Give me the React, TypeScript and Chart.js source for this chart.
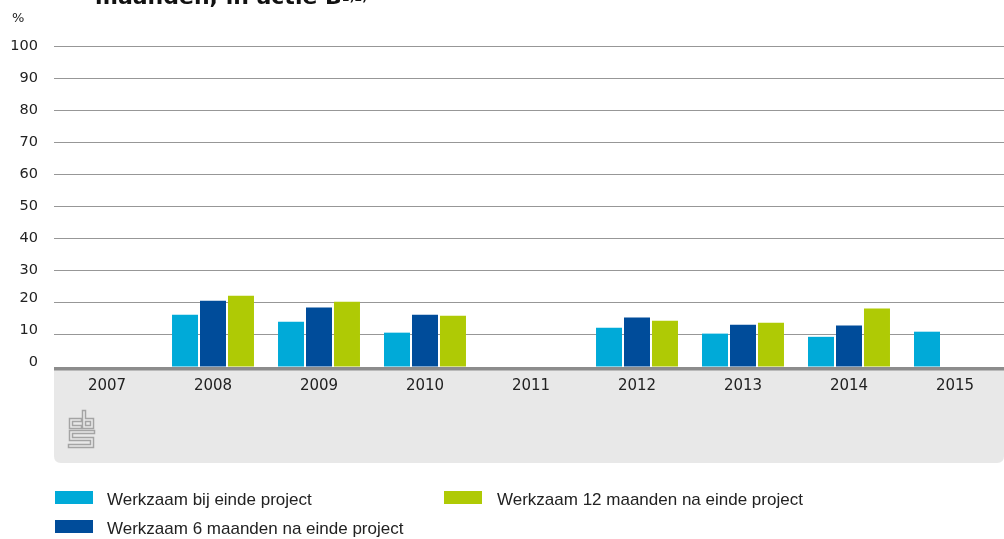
import React, { useEffect, useRef } from "react";
import { Chart, registerables } from "chart.js";

Chart.register(...registerables);

const years = ["2007", "2008", "2009", "2010", "2011", "2012", "2013", "2014", "2015"];
const bijEinde = [null, 16.3, 14.1, 10.7, null, 12.2, 10.4, 9.4, 11.0];
const zesMaanden = [null, 20.6, 18.5, 16.3, null, 15.4, 13.2, 12.9, null];
const twaalfMaanden = [null, 22.2, 20.3, 16.0, null, 14.4, 13.8, 18.2, null];
const yTicks = [0, 10, 20, 30, 40, 50, 60, 70, 80, 90, 100];
const raisedTicks = [0, 10, 20];

const seriesNames = [
  "Werkzaam bij einde project",
  "Werkzaam 6 maanden na einde project",
  "Werkzaam 12 maanden na einde project",
];
const colors = ["#00AAD8", "#004C9A", "#AFCA05"];

const FONT = "'DejaVu Sans', sans-serif";

const bandPlugin = {
  id: "band",
  beforeDraw(chart: any) {
    const { ctx, chartArea } = chart;
    const left = chartArea.left;
    const right = chartArea.right - 4;
    const top = chartArea.bottom;
    const bottom = 463;
    const r = 7;
    ctx.save();
    ctx.fillStyle = "#e8e8e8";
    ctx.beginPath();
    ctx.moveTo(left, top);
    ctx.lineTo(right, top);
    ctx.lineTo(right, bottom - r);
    ctx.quadraticCurveTo(right, bottom, right - r, bottom);
    ctx.lineTo(left + r, bottom);
    ctx.quadraticCurveTo(left, bottom, left, bottom - r);
    ctx.closePath();
    ctx.fill();
    ctx.fillStyle = "#8c8c8c";
    ctx.fillRect(left, top, right - left + 4, 3.5);

    // cbs logo
    const x0 = 69;
    const y0 = 411;
    const paths: number[][][] = [
      [[11, 9], [2, 9], [2, 16], [11, 16]],
      [[15, 1], [15, 16], [23, 16], [23, 9], [15, 9]],
      [[24, 21], [2, 21], [2, 28], [23, 28], [23, 35], [1, 35]],
    ];
    ctx.lineJoin = "miter";
    ctx.lineCap = "square";
    for (const [w, c] of [[4.5, "#a4a4a4"], [1.6, "#e8e8e8"]] as [number, string][]) {
      ctx.lineWidth = w;
      ctx.strokeStyle = c;
      for (const p of paths) {
        ctx.beginPath();
        p.forEach(([px, py], i) => (i === 0 ? ctx.moveTo(x0 + px, y0 + py) : ctx.lineTo(x0 + px, y0 + py)));
        ctx.stroke();
      }
    }
    ctx.restore();
  },
};

export default function App() {
  const ref = useRef<HTMLCanvasElement>(null);
  useEffect(() => {
    if (!ref.current) return;
    const chart = new Chart(ref.current, {
      type: "bar",
      data: {
        labels: years,
        datasets: [bijEinde, zesMaanden, twaalfMaanden].map((d, i) => ({
          label: seriesNames[i],
          data: d as any,
          backgroundColor: colors[i],
          borderWidth: 0,
          categoryPercentage: 0.792,
          barPercentage: 0.929,
        })),
      },
      options: {
        animation: false,
        responsive: false,
        devicePixelRatio: 1,
        layout: { padding: { top: 46, left: 0, right: 0, bottom: 0 } },
        plugins: { legend: { display: false }, tooltip: { enabled: false }, title: { display: false } },
        scales: {
          x: {
            grid: { display: false, drawTicks: false },
            border: { display: false },
            ticks: { color: "#222", font: { family: FONT, size: 15 }, padding: 10 },
            afterFit: (s: any) => {
              s.height = 172;
            },
          },
          y: {
            min: 0,
            max: 100,
            afterBuildTicks: (s: any) => {
              s.ticks = yTicks.map((v) => ({ value: v }));
            },
            grid: {
              drawTicks: false,
              color: (c: any) => (c.tick && c.tick.value === 0 ? "rgba(0,0,0,0)" : "#979797"),
              lineWidth: 1,
            },
            border: { display: false },
            ticks: {
              color: "#222",
              padding: 16,
              font: (c: any) => ({
                family: FONT,
                size: 14.5,
                lineHeight: c.tick && raisedTicks.includes(c.tick.value) ? "10px" : 1.2,
              }),
              callback: (v: any) => (raisedTicks.includes(Number(v)) ? [String(v), ""] : String(v)),
            },
            afterFit: (s: any) => {
              s.width = 54;
            },
          },
        },
      },
      plugins: [bandPlugin],
    });
    return () => chart.destroy();
  }, []);

  const legendText: React.CSSProperties = {
    position: "absolute",
    fontFamily: "'Liberation Sans', Arial, sans-serif",
    fontSize: 17,
    color: "#222",
    whiteSpace: "nowrap",
    lineHeight: "20px",
  };
  const box = (left: number, top: number, color: string): React.CSSProperties => ({
    position: "absolute",
    left,
    top,
    width: 38,
    height: 13,
    background: color,
  });

  return (
    <div style={{ position: "absolute", left: 0, top: 0, width: 1004, height: 539, overflow: "hidden", background: "#fff" }}>
      <canvas ref={ref} width={1008} height={539} style={{ position: "absolute", left: 0, top: 0, display: "block" }} />
      <div
        style={{
          position: "absolute",
          left: 95,
          top: -16,
          fontFamily: FONT,
          fontWeight: "bold",
          fontSize: 22,
          lineHeight: "26px",
          color: "#111",
          whiteSpace: "nowrap",
        }}
      >
        maanden, in actie B<sup style={{ fontSize: 11, verticalAlign: "3px", lineHeight: 0 }}>1)2)</sup>
      </div>
      <div style={{ position: "absolute", left: 12, top: 10, fontFamily: FONT, fontSize: 13, color: "#222" }}>%</div>
      <div style={box(55, 491, colors[0])} />
      <div style={{ ...legendText, left: 107, top: 490 }}>{seriesNames[0]}</div>
      <div style={box(55, 520, colors[1])} />
      <div style={{ ...legendText, left: 107, top: 519 }}>{seriesNames[1]}</div>
      <div style={box(444, 491, colors[2])} />
      <div style={{ ...legendText, left: 497, top: 490 }}>{seriesNames[2]}</div>
    </div>
  );
}
